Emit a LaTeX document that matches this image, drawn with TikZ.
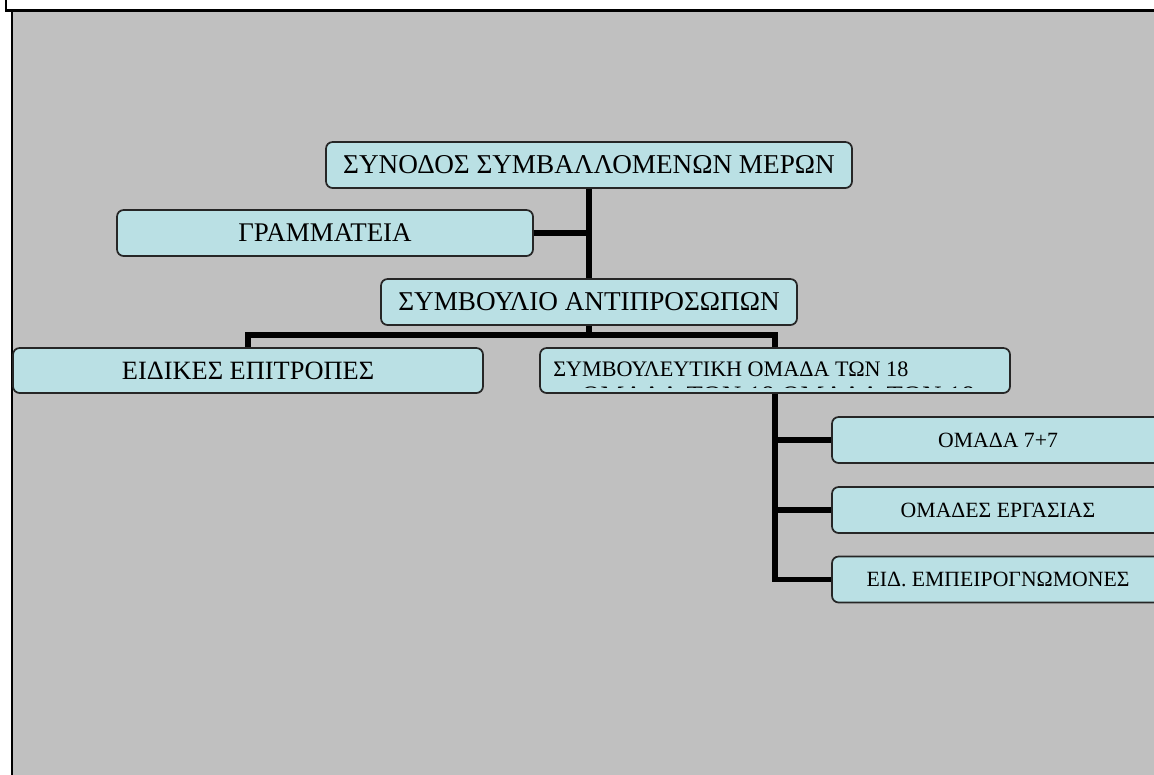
\documentclass[tikz,border=0pt]{standalone}
\usepackage{fontspec}
\setmainfont{Liberation Serif}
\definecolor{bg}{RGB}{192,192,192}
\definecolor{boxfill}{RGB}{186,224,228}
\tikzset{
  orgbox/.style={draw=black!85, line width=1.3pt, fill=boxfill, rounded corners=5pt, inner sep=0pt, text=black},
  conn/.style={line width=3.8pt, black},
}
\begin{document}
\begin{tikzpicture}[x=0.75pt, y=-0.75pt]
\useasboundingbox (0,0) rectangle (1154,775);
\begin{scope}
\clip (0,0) rectangle (1154,775);
% frame
\fill[white] (0,0) rectangle (1154,775);
\fill[bg] (12,12) rectangle (1154,775);
\draw[line width=2.2pt] (6,0) -- (6,10.5) -- (1154,10.5);
\draw[line width=1.8pt] (12,12) -- (12,775);
% nodes
\node[orgbox, minimum width=394.5pt, minimum height=34.5pt, font=\fontsize{20.4}{24}\selectfont] (b1) at (589,165) {ΣΥΝΟΔΟΣ ΣΥΜΒΑΛΛΟΜΕΝΩΝ ΜΕΡΩΝ};
\node[orgbox, minimum width=312pt, minimum height=34.5pt, font=\fontsize{20.2}{24}\selectfont] (b2) at (325,233) {ΓΡΑΜΜΑΤΕΙΑ};
\node[orgbox, minimum width=312pt, minimum height=34.5pt, font=\fontsize{20.4}{24}\selectfont] (b3) at (589,302) {ΣΥΜΒΟΥΛΙΟ ΑΝΤΙΠΡΟΣΩΠΩΝ};
\node[orgbox, minimum width=352.5pt, minimum height=33.75pt, font=\fontsize{19.8}{23}\selectfont] (b4) at (248,370.5) {ΕΙΔΙΚΕΣ ΕΠΙΤΡΟΠΕΣ};
\node[orgbox, minimum width=352.5pt, minimum height=33.75pt] (b5) at (775,370.5) {};
\node[anchor=base west, inner sep=0pt, font=\fontsize{16.6}{19}\selectfont] (b5t) at (553,376) {ΣΥΜΒΟΥΛΕΥΤΙΚΗ ΟΜΑΔΑ ΤΩΝ 18};
\begin{scope}
\clip (542,350) rectangle (1008,387.5);
\node[anchor=base west, inner sep=0pt, font=\fontsize{20}{23}\selectfont] (b5u) at (581,404.5) {ΟΜΑΔΑ ΤΩΝ 18 ΟΜΑΔΑ ΤΩΝ 18};
\end{scope}
\node[orgbox, minimum width=249pt, minimum height=34.5pt, font=\fontsize{16.3}{19}\selectfont] (b6) at (998,440) {ΟΜΑΔΑ 7+7};
\node[orgbox, minimum width=249pt, minimum height=34.5pt, font=\fontsize{16.3}{19}\selectfont] (b7) at (998,510) {ΟΜΑΔΕΣ ΕΡΓΑΣΙΑΣ};
\node[orgbox, minimum width=249pt, minimum height=34.5pt, font=\fontsize{16.3}{19}\selectfont] (b8) at (998,579.5) {ΕΙΔ. ΕΜΠΕΙΡΟΓΝΩΜΟΝΕΣ};
% connectors
\coordinate (bar) at (0,335);
\draw[conn] (b1.south) -- (b3.north);
\draw[conn] (b2.east) -- (b2.east -| b1.south);
\draw[conn] (b3.south) -- (b3.south |- bar);
\draw[conn] (b4.north) -- (b4.north |- bar) -- (b5.north |- bar) -- (b5.north);
\draw[conn] (b5.south) |- (b8.west);
\draw[conn] (b5.south |- b6.west) -- (b6.west);
\draw[conn] (b5.south |- b7.west) -- (b7.west);
\end{scope}
\end{tikzpicture}
\end{document}
